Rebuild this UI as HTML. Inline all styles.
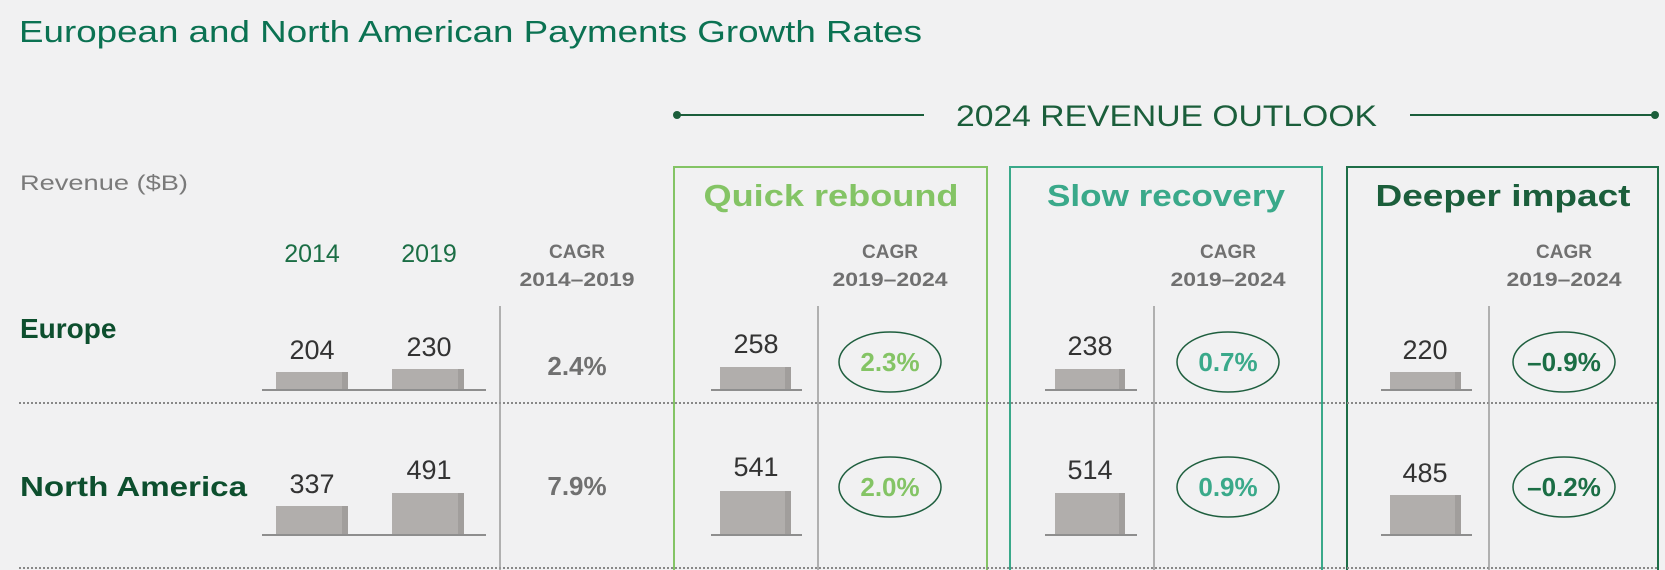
<!DOCTYPE html>
<html><head><meta charset="utf-8"><style>
html,body{margin:0;padding:0;background:#f1f1f2;}
svg{display:block;font-family:"Liberation Sans",sans-serif;}
</style></head><body>
<svg width="1665" height="570" viewBox="0 0 1665 570" xmlns="http://www.w3.org/2000/svg">
<rect width="1665" height="570" fill="#f1f1f2"/>
<text x="19" y="42" font-size="31" fill="#0b7252" textLength="903" lengthAdjust="spacingAndGlyphs">European and North American Payments Growth Rates</text>
<line x1="677" y1="115" x2="924" y2="115" stroke="#1b5e3b" stroke-width="2"/>
<circle cx="677" cy="115" r="4" fill="#1b5e3b"/>
<line x1="1410" y1="115" x2="1655" y2="115" stroke="#1b5e3b" stroke-width="2"/>
<circle cx="1655" cy="115" r="4" fill="#1b5e3b"/>
<text x="956" y="126" font-size="30" fill="#1b5e3b" textLength="421" lengthAdjust="spacingAndGlyphs">2024 REVENUE OUTLOOK</text>
<text x="20" y="190" font-size="21" fill="#7a7a7a" textLength="168" lengthAdjust="spacingAndGlyphs">Revenue ($B)</text>
<path d="M674 570 V167 H987 V570" fill="none" stroke="#84c465" stroke-width="2"/>
<path d="M1010 570 V167 H1322 V570" fill="none" stroke="#3aa98a" stroke-width="2"/>
<path d="M1347 570 V167 H1658 V570" fill="none" stroke="#1e6e48" stroke-width="2"/>
<g font-weight="bold" font-size="31" text-anchor="middle">
<text x="831" y="206" fill="#84c465" textLength="255" lengthAdjust="spacingAndGlyphs">Quick rebound</text>
<text x="1166" y="206" fill="#3aa98a" textLength="238" lengthAdjust="spacingAndGlyphs">Slow recovery</text>
<text x="1503" y="206" fill="#1b5e3b" textLength="255" lengthAdjust="spacingAndGlyphs">Deeper impact</text>
</g>
<g font-size="25" fill="#1b6e45" text-anchor="middle">
<text x="312" y="262">2014</text><text x="429" y="262">2019</text>
</g>
<g font-size="19" font-weight="bold" fill="#707070" text-anchor="middle">
<text x="577" y="258">CAGR</text><text x="577" y="286" textLength="115" lengthAdjust="spacingAndGlyphs">2014–2019</text>
<text x="890" y="258">CAGR</text><text x="890" y="286" textLength="115" lengthAdjust="spacingAndGlyphs">2019–2024</text>
<text x="1228" y="258">CAGR</text><text x="1228" y="286" textLength="115" lengthAdjust="spacingAndGlyphs">2019–2024</text>
<text x="1564" y="258">CAGR</text><text x="1564" y="286" textLength="115" lengthAdjust="spacingAndGlyphs">2019–2024</text>
</g>
<g font-size="28" font-weight="bold" fill="#0d4f2e">
<text x="20" y="338">Europe</text>
<text x="20" y="496" textLength="227" lengthAdjust="spacingAndGlyphs">North America</text>
</g>
<line x1="19" y1="403" x2="1657" y2="403" stroke="#888" stroke-width="2" stroke-dasharray="2,2"/>
<line x1="19" y1="568" x2="1657" y2="568" stroke="#888" stroke-width="2" stroke-dasharray="2,2"/>
<g stroke="#9a9a9a" stroke-width="1.5">
<line x1="500" y1="306" x2="500" y2="570"/><line x1="818" y1="306" x2="818" y2="570"/>
<line x1="1154" y1="306" x2="1154" y2="570"/><line x1="1489" y1="306" x2="1489" y2="570"/>
</g>
<g fill="#b1aeac">
<rect x="276" y="372" width="72" height="18"/><rect x="392" y="369" width="72" height="21"/>
<rect x="720" y="367" width="71" height="23"/><rect x="1055" y="369" width="70" height="21"/><rect x="1390" y="372" width="71" height="18"/>
<rect x="276" y="506" width="72" height="29"/><rect x="392" y="493" width="72" height="42"/>
<rect x="720" y="491" width="71" height="44"/><rect x="1055" y="493" width="70" height="42"/><rect x="1390" y="495" width="71" height="40"/>
</g>
<g fill="#a19e9c">
<rect x="342" y="372" width="6" height="18"/><rect x="458" y="369" width="6" height="21"/>
<rect x="785" y="367" width="6" height="23"/><rect x="1119" y="369" width="6" height="21"/><rect x="1455" y="372" width="6" height="18"/>
<rect x="342" y="506" width="6" height="29"/><rect x="458" y="493" width="6" height="42"/>
<rect x="785" y="491" width="6" height="44"/><rect x="1119" y="493" width="6" height="42"/><rect x="1455" y="495" width="6" height="40"/>
</g>
<g stroke="#8e8e8e" stroke-width="2">
<line x1="262" y1="390" x2="486" y2="390"/><line x1="711" y1="390" x2="802" y2="390"/><line x1="1045" y1="390" x2="1137" y2="390"/><line x1="1381" y1="390" x2="1472" y2="390"/>
<line x1="262" y1="535" x2="486" y2="535"/><line x1="711" y1="535" x2="802" y2="535"/><line x1="1045" y1="535" x2="1137" y2="535"/><line x1="1381" y1="535" x2="1472" y2="535"/>
</g>
<g font-size="27" fill="#333" text-anchor="middle">
<text x="312" y="359">204</text><text x="429" y="356">230</text><text x="756" y="353">258</text><text x="1090" y="355">238</text><text x="1425" y="359">220</text>
<text x="312" y="493">337</text><text x="429" y="479">491</text><text x="756" y="476">541</text><text x="1090" y="479">514</text><text x="1425" y="482">485</text>
</g>
<g font-size="26" font-weight="bold" fill="#707070" text-anchor="middle">
<text x="577" y="375">2.4%</text><text x="577" y="495">7.9%</text>
</g>
<g fill="none" stroke="#1e5e3e" stroke-width="1.5">
<ellipse cx="890" cy="362" rx="51" ry="30"/><ellipse cx="1228" cy="362" rx="51" ry="30"/><ellipse cx="1564" cy="362" rx="51" ry="30"/>
<ellipse cx="890" cy="487" rx="51" ry="30"/><ellipse cx="1228" cy="487" rx="51" ry="30"/><ellipse cx="1564" cy="487" rx="51" ry="30"/>
</g>
<g font-size="26" font-weight="bold" text-anchor="middle">
<text x="890" y="371" fill="#84c465">2.3%</text><text x="1228" y="371" fill="#3aa98a">0.7%</text><text x="1564" y="371" fill="#1b6e45">–0.9%</text>
<text x="890" y="496" fill="#84c465">2.0%</text><text x="1228" y="496" fill="#3aa98a">0.9%</text><text x="1564" y="496" fill="#1b6e45">–0.2%</text>
</g>
</svg>
</body></html>
